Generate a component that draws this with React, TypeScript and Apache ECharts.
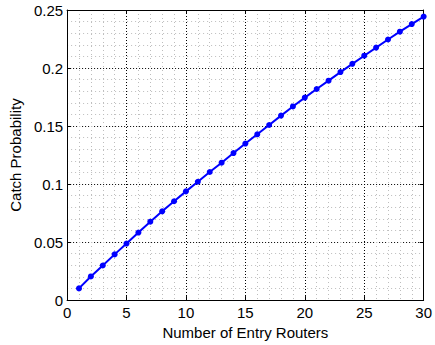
import React, { useEffect, useRef } from "react";
import * as echarts from "echarts";

const routers = [1, 2, 3, 4, 5, 6, 7, 8, 9, 10, 11, 12, 13, 14, 15, 16, 17, 18, 19, 20, 21, 22, 23, 24, 25, 26, 27, 28, 29, 30];
const catchProb = [
  0.0101, 0.0204, 0.0298, 0.0394, 0.0487, 0.0582, 0.0676, 0.0765, 0.0852, 0.0937,
  0.1020, 0.1104, 0.1184, 0.1267, 0.1349, 0.1429, 0.1509, 0.1590, 0.1669, 0.1745,
  0.1819, 0.1891, 0.1965, 0.2036, 0.2106, 0.2176, 0.2246, 0.2313, 0.2379, 0.2443,
];
const xTitle = "Number of Entry Routers";
const yTitle = "Catch Probability";

export default function App() {
  const ref = useRef<HTMLDivElement>(null);
  useEffect(() => {
    if (!ref.current) return;
    const chart = echarts.init(ref.current, null, { renderer: "svg" });
    const font = "Liberation Sans, Arial, Helvetica, sans-serif";
    const majorGrid = { show: true, lineStyle: { color: "#000", width: 1, type: [1, 2] as any } };
    const minorGrid = { show: true, lineStyle: { color: "#bdbdbd", width: 1, type: [1, 3] as any } };
    chart.setOption({
      animation: false,
      backgroundColor: "#fff",
      grid: { left: 66, right: 9, top: 10, bottom: 38 },
      xAxis: [
        {
          type: "value", min: 0, max: 30, interval: 5,
          name: xTitle, nameLocation: "middle", nameGap: 22,
          nameTextStyle: { color: "#000", fontSize: 15, fontFamily: font },
          axisLine: { show: true, onZero: false, lineStyle: { color: "#000", width: 1 } },
          axisTick: { show: true, inside: true, length: 4, lineStyle: { color: "#000" } },
          axisLabel: { color: "#000", fontSize: 15, fontFamily: font, margin: 5 },
          splitLine: majorGrid,
          minorTick: { show: false, splitNumber: 5 },
          minorSplitLine: minorGrid,
        },
        {
          type: "value", min: 0, max: 30, interval: 5, position: "top",
          axisLine: { show: true, onZero: false, lineStyle: { color: "#000", width: 1 } },
          axisTick: { show: true, inside: true, length: 4, lineStyle: { color: "#000" } },
          axisLabel: { show: false },
          splitLine: { show: false },
        },
      ],
      yAxis: [
        {
          type: "value", min: 0, max: 0.25, interval: 0.05,
          name: yTitle, nameLocation: "middle", nameGap: 40,
          nameTextStyle: { color: "#000", fontSize: 15, fontFamily: font },
          axisLine: { show: true, onZero: false, lineStyle: { color: "#000", width: 1 } },
          axisTick: { show: true, inside: true, length: 4, lineStyle: { color: "#000" } },
          axisLabel: { color: "#000", fontSize: 15, fontFamily: font, margin: 4 },
          splitLine: majorGrid,
          minorTick: { show: false, splitNumber: 5 },
          minorSplitLine: minorGrid,
        },
        {
          type: "value", min: 0, max: 0.25, interval: 0.05, position: "right",
          axisLine: { show: true, onZero: false, lineStyle: { color: "#000", width: 1 } },
          axisTick: { show: true, inside: true, length: 4, lineStyle: { color: "#000" } },
          axisLabel: { show: false },
          splitLine: { show: false },
        },
      ],
      series: [
        {
          type: "line",
          data: routers.map((x, i) => [x, catchProb[i]]),
          lineStyle: { color: "#0000ff", width: 2 },
          itemStyle: { color: "#0000ff" },
          symbol: "circle",
          symbolSize: 6,
        },
      ],
    });
    return () => chart.dispose();
  }, []);
  return <div ref={ref} style={{ position: "fixed", left: 0, top: 0, width: 435, height: 345 }} />;
}
